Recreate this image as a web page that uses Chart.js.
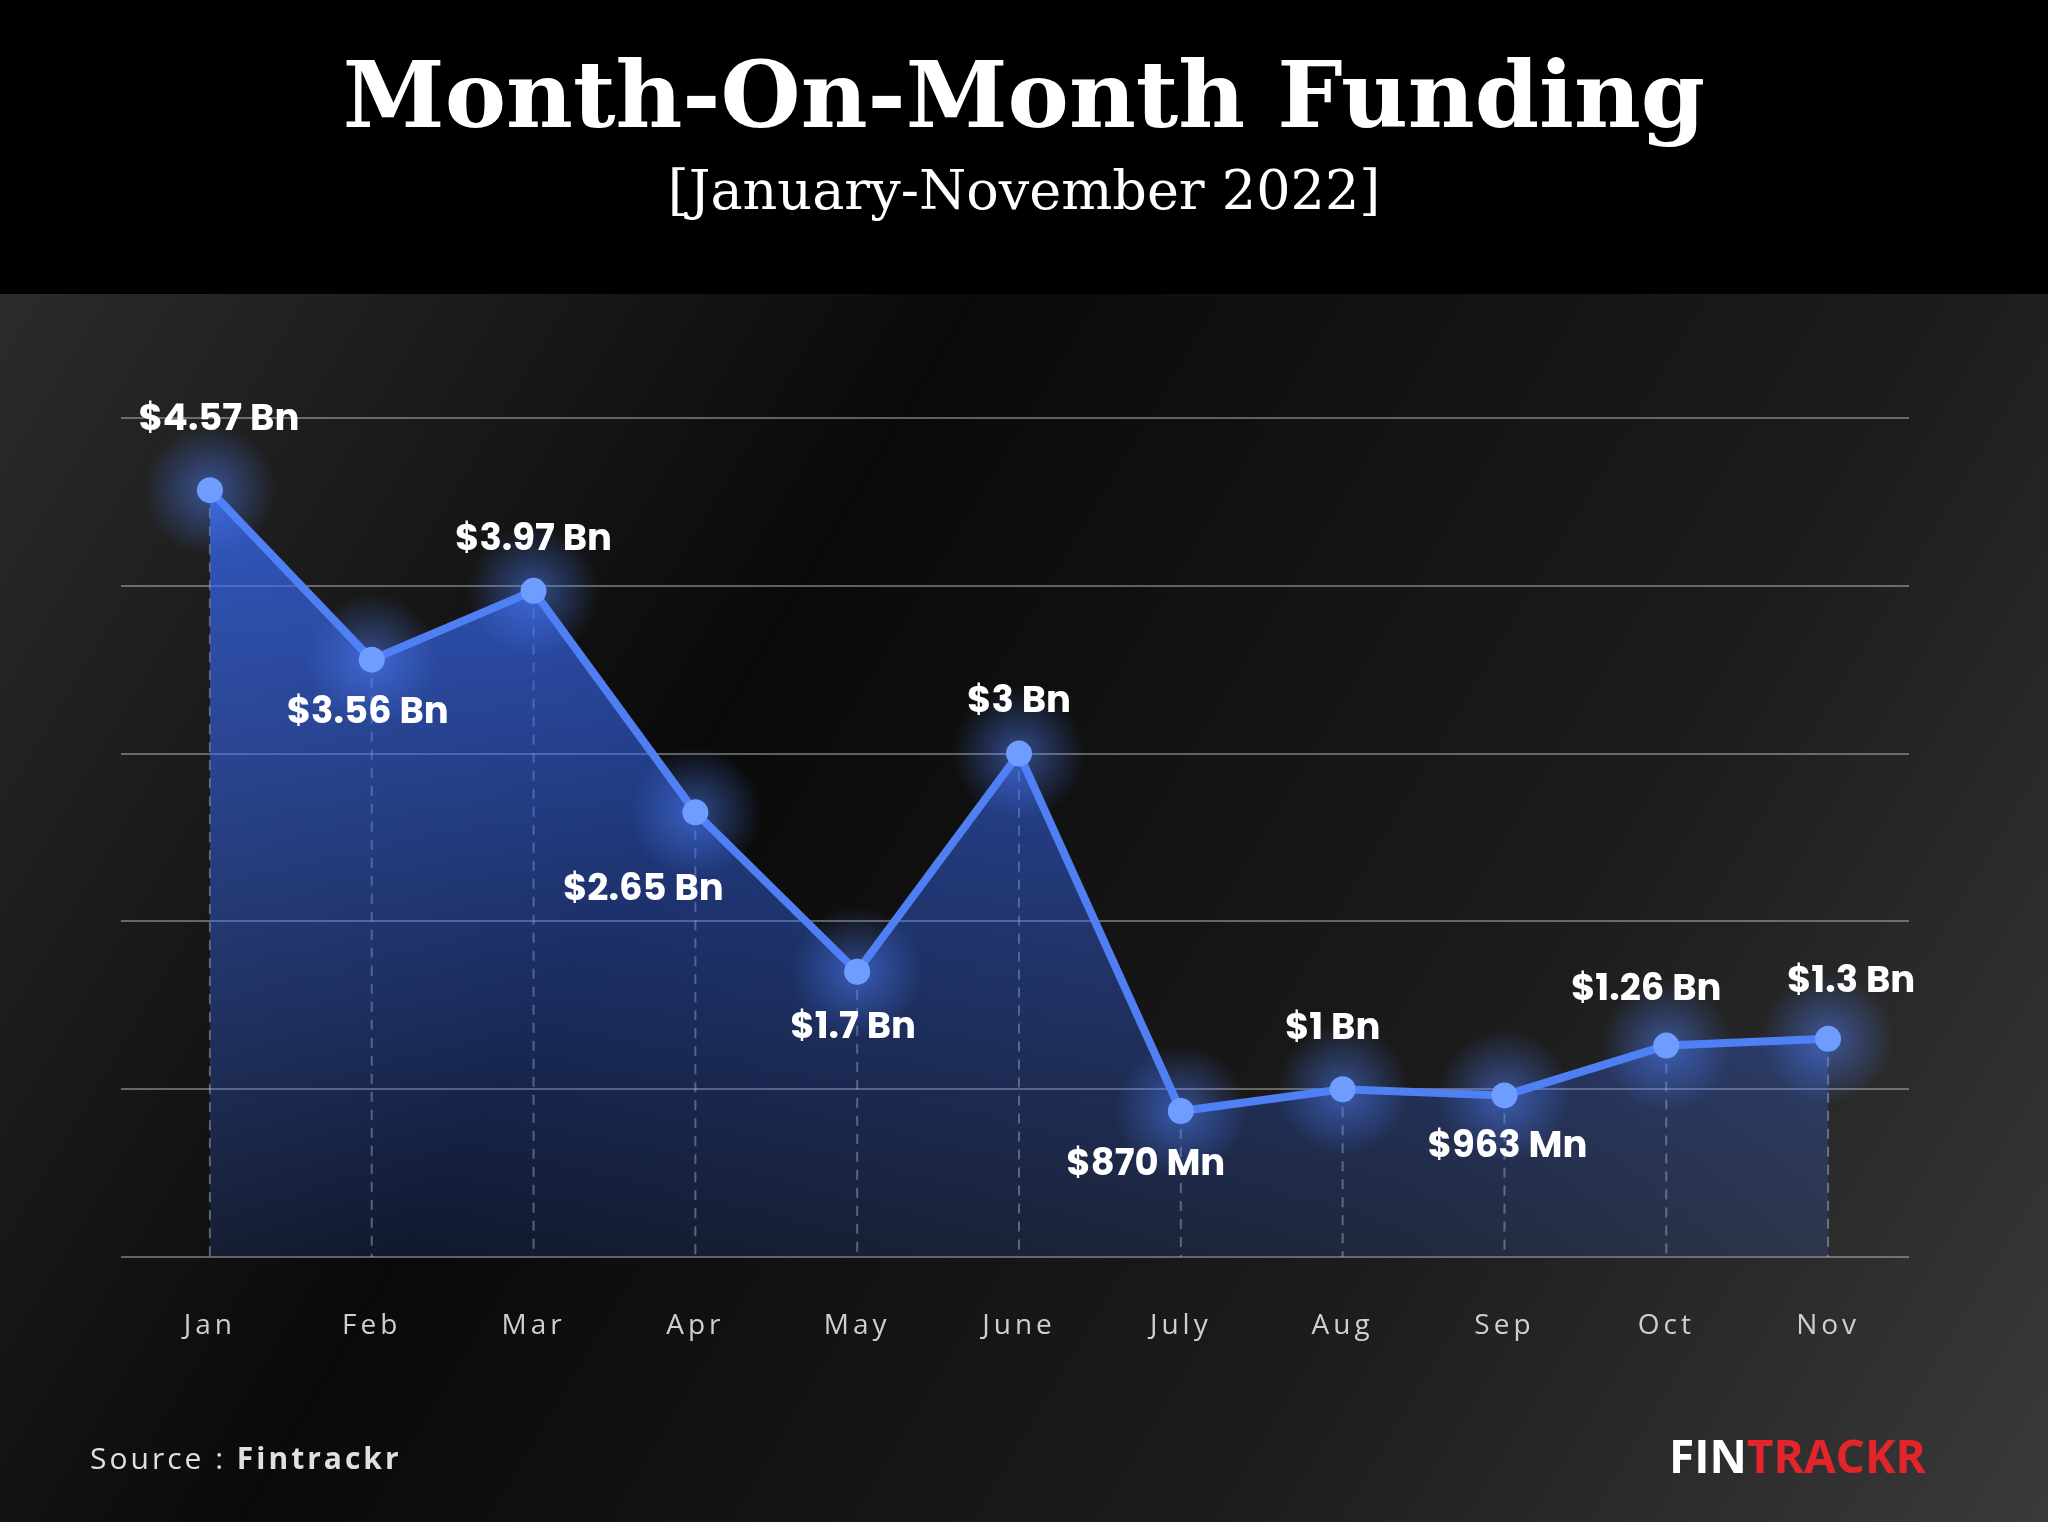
<!DOCTYPE html>
<html><head><meta charset="utf-8">
<script src="https://cdn.jsdelivr.net/npm/chart.js@4/dist/chart.umd.min.js"></script>
<style>html,body{margin:0;padding:0;background:#000;}canvas{display:block;}</style>
</head><body>
<div style="width:2048px;height:1522px;"><canvas id="c" width="2048" height="1522"></canvas></div>
<script>
const months = ["Jan","Feb","Mar","Apr","May","June","July","Aug","Sep","Oct","Nov"];
const funding = [4.57,3.56,3.97,2.65,1.7,3.0,0.87,1.0,0.963,1.26,1.3];
const valueLabels = ["$4.57 Bn","$3.56 Bn","$3.97 Bn","$2.65 Bn","$1.7 Bn","$3 Bn","$870 Mn","$1 Bn","$963 Mn","$1.26 Bn","$1.3 Bn"];
const labelDx = [9,-4,0,-52,-4,0,-35,-10,3,-20,23];
const labelDy = [-69,54,-50,78,57,-51,55,-59,52,-55,-56];

const deco = {
  id:'deco',
  beforeDraw(chart){
    const ctx=chart.ctx, W=chart.width, H=chart.height;
    ctx.save();
    let g=ctx.createLinearGradient(0,294,W,H);
    g.addColorStop(0,'#2b2b2b');g.addColorStop(0.35,'#0a0a0a');g.addColorStop(0.7,'#1c1c1c');g.addColorStop(1,'#3a3a3a');
    ctx.fillStyle=g;ctx.fillRect(0,294,W,H-294);
    ctx.fillStyle='#000';ctx.fillRect(0,0,W,294);
    ctx.fillStyle='#fff';ctx.textAlign='center';ctx.textBaseline='middle';
    ctx.font='bold 92px "DejaVu Serif"';ctx.fillText('Month-On-Month Funding',1024,103);
    ctx.font='54px "DejaVu Serif"';ctx.fillText('[January-November 2022]',1024,195);
    const xs=chart.scales.x, ys=chart.scales.y;
    ctx.strokeStyle='rgba(200,200,200,0.45)';ctx.lineWidth=2;ctx.setLineDash([10,8]);
    funding.forEach((v,i)=>{const x=xs.getPixelForValue(i);ctx.beginPath();ctx.moveTo(x,ys.getPixelForValue(v));ctx.lineTo(x,ys.getPixelForValue(0));ctx.stroke();});
    ctx.setLineDash([]);
    ctx.restore();
  },
  afterDatasetsDraw(chart){
    const ctx=chart.ctx, xs=chart.scales.x, ys=chart.scales.y;
    ctx.save();
    funding.forEach((v,i)=>{
      const x=xs.getPixelForValue(i), y=ys.getPixelForValue(v);
      const rg=ctx.createRadialGradient(x,y,8,x,y,66);
      rg.addColorStop(0,'rgba(80,130,255,0.45)');rg.addColorStop(0.6,'rgba(80,130,255,0.18)');rg.addColorStop(1,'rgba(80,130,255,0)');
      ctx.fillStyle=rg;ctx.beginPath();ctx.arc(x,y,66,0,Math.PI*2);ctx.fill();
      ctx.fillStyle='#6f9dff';ctx.beginPath();ctx.arc(x,y,13,0,Math.PI*2);ctx.fill();
      ctx.fillStyle='#fff';ctx.font='bold 37px Poppins, "Open Sans", sans-serif';ctx.textAlign='center';ctx.textBaseline='middle';
      ctx.fillText(valueLabels[i],x+labelDx[i],y+labelDy[i]);
      ctx.fillStyle='#cfcfcf';ctx.font='28px "Open Sans", sans-serif';
      ctx.letterSpacing='4px';
      ctx.fillText(months[i],x,1326);
      ctx.letterSpacing='0px';
    });
    ctx.textAlign='left';ctx.fillStyle='#e0e0e0';ctx.font='30px "Open Sans", sans-serif';ctx.letterSpacing='3px';
    ctx.fillText('Source : ',90,1460);
    let w=ctx.measureText('Source : ').width;
    ctx.font='bold 30px "Open Sans", sans-serif';ctx.fillText('Fintrackr',90+w,1460);
    ctx.letterSpacing='0px';
    ctx.font='bold 46px "Open Sans", sans-serif';
    ctx.fillStyle='#fff';ctx.fillText('FIN',1669,1460);
    w=ctx.measureText('FIN').width;
    ctx.fillStyle='#e3252b';ctx.fillText('TRACKR',1669+w,1460);
    ctx.restore();
  }
};

new Chart(document.getElementById('c'),{
  type:'line',
  data:{labels:months,datasets:[{data:funding,borderColor:'#4f7ff2',borderWidth:8,pointRadius:0,tension:0,
    fill:'origin',
    backgroundColor:(c)=>{const a=c.chart.chartArea;if(!a)return 'rgba(60,100,230,0.5)';
      const g=c.chart.ctx.createLinearGradient(0,a.top,0,a.bottom);g.addColorStop(0,'rgba(55,105,245,0.8)');g.addColorStop(1,'rgba(55,105,245,0.15)');return g;}}]},
  options:{responsive:false,animation:false,
    layout:{padding:{top:418,bottom:257,left:121,right:139}},
    plugins:{legend:{display:false},tooltip:{enabled:false}},
    scales:{
      x:{offset:true,grid:{display:false},border:{display:false},ticks:{display:false}},
      y:{min:0,max:5,grid:{color:'rgba(200,200,200,0.45)',lineWidth:2},border:{display:false},ticks:{display:false,stepSize:1}}
    }},
  plugins:[deco]
});
</script>
</body></html>
